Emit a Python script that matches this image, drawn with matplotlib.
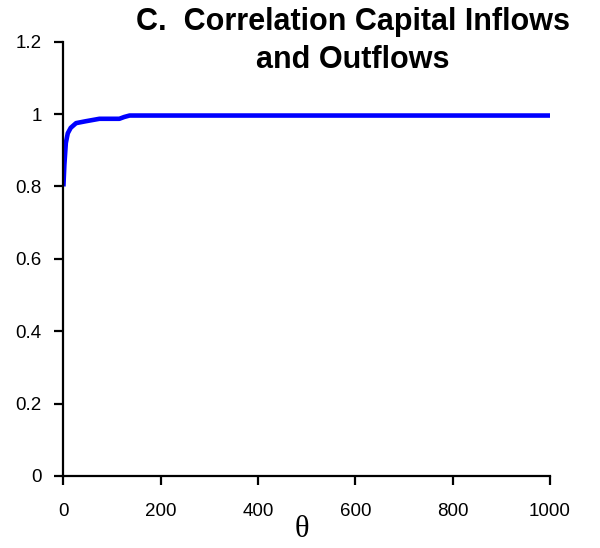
import matplotlib
matplotlib.use("Agg")
import matplotlib.pyplot as plt

theta = [0, 2, 5, 9, 15, 26, 45, 74, 95, 115, 125, 136, 200, 400, 600, 800, 1000]
corr = [0.80, 0.86, 0.92, 0.947, 0.962, 0.975, 0.980, 0.987, 0.987, 0.987, 0.992, 0.996, 0.996, 0.996, 0.996, 0.996, 0.996]
xticks = [0, 200, 400, 600, 800, 1000]
yticks = [0, 0.2, 0.4, 0.6, 0.8, 1.0, 1.2]
ytick_labels = ["0", "0.2", "0.4", "0.6", "0.8", "1", "1.2"]
title_lines = ["C.  Correlation Capital Inflows", "and Outflows"]

W, H = 600, 548
fig = plt.figure(figsize=(W/100, H/100), dpi=100)
ax = fig.add_axes([63.4/W, 1-476/H, (550-63.4)/W, (476-41.7)/H])
ax.plot(theta, corr, color="#0000ff", lw=3.3, solid_capstyle="butt", solid_joinstyle="round")
ax.set_xlim(0, 1000)
ax.set_ylim(0, 1.2)
ax.set_xticks(xticks)
ax.set_yticks(yticks)
ax.set_yticklabels(ytick_labels)
for s in ["top", "right"]:
    ax.spines[s].set_visible(False)
for s in ["left", "bottom"]:
    ax.spines[s].set_linewidth(1.6)
ax.tick_params(direction="out", length=6.5, width=1.6)
ax.tick_params(axis="x", pad=13)
ax.tick_params(axis="y", pad=9)
for lab in ax.get_xticklabels() + ax.get_yticklabels():
    lab.set_fontfamily(["Liberation Sans", "DejaVu Sans"])
    lab.set_fontsize(13.5)
ax.set_xlabel("θ", family=["Liberation Serif", "DejaVu Serif"], fontsize=22, labelpad=-2)
ax.xaxis.set_label_coords((302-63.4)/(550-63.4), -(544-476)/(476-41.7))
ax.xaxis.label.set_va("bottom")
for txt, yb in zip(title_lines, [30, 68]):
    fig.text(352.5/W, 1-yb/H, txt, ha="center", va="baseline", fontsize=22,
             fontweight="bold", family=["Liberation Sans", "DejaVu Sans"])
fig.savefig("out.png", dpi=100)
